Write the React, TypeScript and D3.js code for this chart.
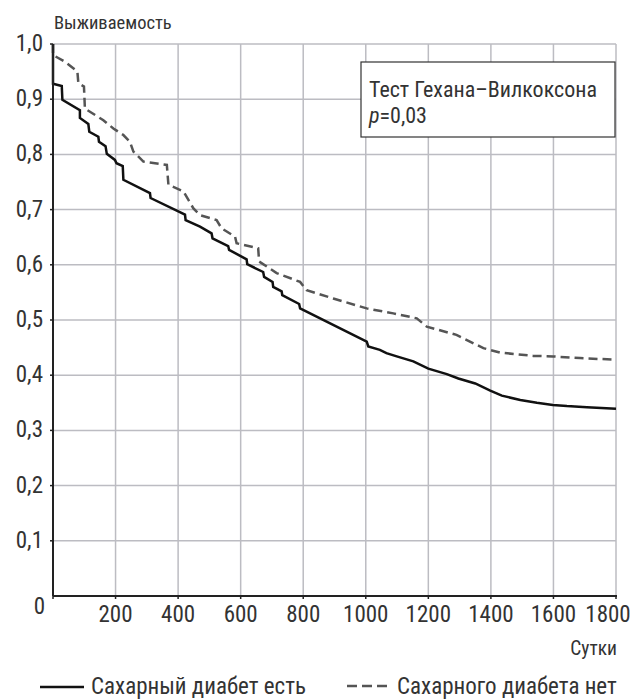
import React from 'react';
import * as d3 from 'd3';

// days, survival
const withDiabetes: [number, number][] = [
  [0, 1.0], [0, 0.928], [28, 0.924], [30, 0.899], [86, 0.88], [86, 0.866], [113, 0.855], [116, 0.841],
  [145, 0.832], [147, 0.823], [168, 0.815], [172, 0.801], [198, 0.79], [203, 0.784], [223, 0.779],
  [225, 0.754], [310, 0.73], [312, 0.721], [422, 0.691], [424, 0.681], [470, 0.669], [507, 0.657],
  [510, 0.648], [560, 0.634], [563, 0.627], [619, 0.61], [621, 0.601], [672, 0.587], [675, 0.578],
  [702, 0.569], [704, 0.56], [731, 0.552], [733, 0.545], [787, 0.529], [790, 0.521], [1003, 0.461],
  [1008, 0.452], [1045, 0.446], [1066, 0.44], [1099, 0.434], [1152, 0.425], [1200, 0.412],
  [1259, 0.402], [1296, 0.394], [1350, 0.385], [1398, 0.372], [1435, 0.363], [1494, 0.355],
  [1547, 0.35], [1598, 0.346], [1643, 0.344], [1707, 0.342], [1800, 0.339],
];

const withoutDiabetes: [number, number][] = [
  [0, 1.0], [0, 0.98], [38, 0.968], [78, 0.95], [81, 0.929], [99, 0.923], [102, 0.883], [161, 0.862],
  [193, 0.847], [225, 0.835], [246, 0.823], [257, 0.805], [289, 0.787], [364, 0.781], [369, 0.745],
  [417, 0.733], [449, 0.702], [470, 0.69], [523, 0.681], [539, 0.666], [582, 0.651], [587, 0.639],
  [656, 0.63], [659, 0.606], [715, 0.585], [790, 0.569], [811, 0.554], [896, 0.539], [1003, 0.521],
  [1088, 0.512], [1163, 0.503], [1195, 0.488], [1290, 0.473], [1376, 0.449], [1429, 0.441],
  [1535, 0.435], [1599, 0.434], [1685, 0.431], [1800, 0.428],
];

const xTicks = [200, 400, 600, 800, 1000, 1200, 1400, 1600, 1800];
const yTicks = [0.1, 0.2, 0.3, 0.4, 0.5, 0.6, 0.7, 0.8, 0.9, 1.0];

const yTitle = 'Выживаемость';
const xTitle = 'Сутки';
const legendLabels = ['Сахарный диабет есть', 'Сахарного диабета нет'];
const testName = 'Тест Гехана–Вилкоксона';

const font = '"Liberation Sans Narrow", "Roboto Condensed", "Liberation Sans", sans-serif';
const ink = '#333';

const App = () => {
  const left = 53, right = 616, top = 44, bottom = 596;
  const x = d3.scaleLinear().domain([0, 1800]).range([left, right]);
  const y = d3.scaleLinear().domain([0, 1]).range([bottom, top]);
  const line = d3.line<[number, number]>().x(d => x(d[0])).y(d => y(d[1]));
  const fmt = (v: number) => v.toFixed(1).replace('.', ',');

  return (
    <svg width={634} height={700} style={{ position: 'absolute', left: 0, top: 0, background: '#fff' }}
      fontFamily={font}>
      {/* grid */}
      {xTicks.map(t => (
        <line key={'gx' + t} x1={x(t)} x2={x(t)} y1={top} y2={bottom} stroke="#bcbcc2" strokeWidth={1.5} />
      ))}
      {yTicks.map(t => (
        <line key={'gy' + t} x1={left} x2={right} y1={y(t)} y2={y(t)} stroke="#bcbcc2" strokeWidth={1.5} />
      ))}

      {/* annotation box */}
      <rect x={361} y={62} width={254} height={75} fill="#fff" stroke="#333" strokeWidth={1.2} />
      <text x={369} y={97} fontSize={22} fill={ink}>{testName}</text>
      <text x={369} y={123} fontSize={22} fill={ink}>
        <tspan fontStyle="italic">p</tspan>=0,03
      </text>

      {/* curves */}
      <path d={line(withoutDiabetes) || ''} fill="none" stroke="#555" strokeWidth={2.5} strokeDasharray="9,5" />
      <path d={line(withDiabetes) || ''} fill="none" stroke="#111" strokeWidth={2.5} />

      {/* axes */}
      <line x1={left} x2={left} y1={top} y2={bottom} stroke="#222" strokeWidth={2} />
      <line x1={left} x2={right + 1} y1={bottom} y2={bottom} stroke="#222" strokeWidth={2} />
      {yTicks.map(t => (
        <line key={'ty' + t} x1={left - 3} x2={left} y1={y(t)} y2={y(t)} stroke="#222" strokeWidth={1.5} />
      ))}
      {[0, ...xTicks].map(t => (
        <line key={'tx' + t} x1={x(t)} x2={x(t)} y1={bottom} y2={bottom + 3} stroke="#222" strokeWidth={1.5} />
      ))}

      {/* tick labels */}
      {yTicks.map(t => (
        <text key={'ly' + t} x={43} y={y(t) + 7} fontSize={23} textAnchor="end" fill={ink}>{fmt(t)}</text>
      ))}
      <text x={39.5} y={614} fontSize={23} textAnchor="middle" fill={ink}>0</text>
      {xTicks.map(t => (
        <text key={'lx' + t} x={t === 1800 ? x(t) - 8 : x(t)} y={622} fontSize={23} textAnchor="middle" fill={ink}>{t}</text>
      ))}

      {/* titles */}
      <text x={54} y={29} fontSize={18.5} fill={ink}>{yTitle}</text>
      <text x={617} y={655} fontSize={19.5} textAnchor="end" fill={ink}>{xTitle}</text>

      {/* legend */}
      <line x1={40} x2={84} y1={687} y2={687} stroke="#111" strokeWidth={2.5} />
      <text x={91} y={694} fontSize={23} fill={ink}>{legendLabels[0]}</text>
      <line x1={347} x2={390} y1={686} y2={686} stroke="#555" strokeWidth={2.5} strokeDasharray="10,5" />
      <text x={397} y={694} fontSize={23} fill={ink}>{legendLabels[1]}</text>
    </svg>
  );
};

export default App;
